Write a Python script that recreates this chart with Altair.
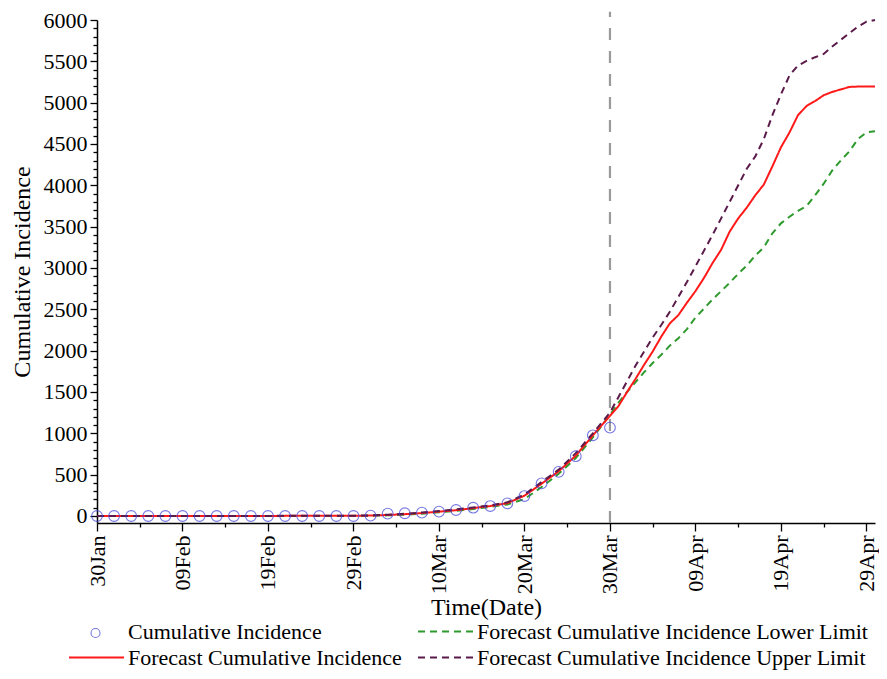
import json
import altair as alt
import pandas as pd

# ---------------- data (day offsets counted from 30 Jan 2020) ----------------
obs_label = "Cumulative Incidence"
obs_days = [0, 2, 4, 6, 8, 10, 12, 14, 16, 18, 20, 22, 24, 26, 28, 30,
            32, 34, 36, 38, 40, 42, 44, 46, 48, 50, 52, 54, 56, 58, 60]
obs_values = [0, 0, 0, 0, 0, 0, 0, 0, 0, 0, 0, 0, 0, 0, 0, 0,
              4, 28, 33, 40, 52, 72, 100, 120, 153, 241, 394, 534, 723, 976, 1069]

fc_days = [0, 10, 20, 30, 32, 34, 36, 38, 40, 42, 44, 46, 48, 50, 52, 54, 56, 58, 60,
           61, 62, 63, 64, 65, 66, 67, 68, 69, 70, 71, 72, 73, 74, 75, 76, 77, 78, 79, 80,
           81, 82, 83, 84, 85, 86, 87, 88, 89, 90, 91]
fc_mid = [0, 0, 1, 2, 5, 12, 22, 35, 52, 70, 95, 120, 155, 245, 390, 540, 730, 975, 1210,
          1330, 1500, 1660, 1830, 1990, 2170, 2330, 2430, 2580, 2720, 2880, 3060, 3220, 3440,
          3600, 3730, 3880, 4010, 4230, 4460, 4640, 4850, 4960, 5020, 5090, 5130, 5160, 5190,
          5195, 5195, 5195]
fc_upper = [0, 0, 1, 3, 6, 15, 28, 42, 60, 80, 102, 128, 165, 260, 410, 560, 760, 1000, 1250,
            1440, 1630, 1820, 1990, 2160, 2310, 2470, 2650, 2830, 3020, 3210, 3400, 3600, 3800,
            4000, 4200, 4350, 4560, 4850, 5100, 5330, 5450, 5505, 5550, 5590, 5680, 5760, 5840,
            5920, 5980, 6000]
fc_lower = [0, 0, 0, 1, 3, 8, 16, 28, 44, 62, 85, 110, 140, 205, 350, 510, 700, 950, 1225,
            1370, 1500, 1620, 1740, 1850, 1950, 2060, 2150, 2260, 2400, 2510, 2620, 2720, 2820,
            2930, 3030, 3150, 3250, 3420, 3540, 3620, 3690, 3750, 3880, 4020, 4180, 4300, 4410,
            4560, 4640, 4655]

series_names = ["Cumulative Incidence",
                "Forecast Cumulative Incidence Lower Limit",
                "Forecast Cumulative Incidence",
                "Forecast Cumulative Incidence Upper Limit"]
series_colors = ["rgba(0,0,0,0)", "#2e9a2e", "#ff1a1a", "#5a1a4a"]
series_dash = [[1, 0], [7, 5], [1, 0], [7, 5]]
series_width = [2, 2, 2.6, 2]

x_tick_labels = ["30Jan", "09Feb", "19Feb", "29Feb", "10Mar", "20Mar",
                 "30Mar", "09Apr", "19Apr", "29Apr"]
y_tick_values = list(range(0, 6001, 100))
forecast_start_day = 60  # 30 Mar

# ---------------- tables ----------------
obs_df = pd.DataFrame({"day": obs_days, "value": obs_values, "kind": obs_label})
fc_df = pd.concat([
    pd.DataFrame({"day": fc_days, "value": fc_lower, "series": series_names[1]}),
    pd.DataFrame({"day": fc_days, "value": fc_mid, "series": series_names[2]}),
    pd.DataFrame({"day": fc_days, "value": fc_upper, "series": series_names[3]}),
], ignore_index=True)

FONT = "Liberation Serif"
BLUE = "#3f3fd6"
Y_MIN, Y_MAX = -85, 6000

x_scale = alt.Scale(domain=[0, 91], nice=False, zero=False)
y_scale = alt.Scale(domain=[Y_MIN, Y_MAX], nice=False, zero=False)

x_axis = alt.Axis(
    title="Time(Date)",
    values=list(range(0, 91, 5)), tickCount=1000,
    labelExpr=f"datum.value % 10 === 0 ? {json.dumps(x_tick_labels)}[datum.value / 10] : ''",
    labelAngle=270, labelAlign="right", labelBaseline="middle",
    labelFontSize=22, labelPadding=4, labelOverlap=False, labelFlush=False,
    tickSize={"condition": {"test": "datum.value % 10 === 0", "value": 8}, "value": 4},
    titleFontSize=24, titlePadding=2, grid=False,
)
y_axis = alt.Axis(
    title="Cumulative Incidence",
    values=y_tick_values, tickCount=1000,
    format="d",
    labelExpr="datum.value % 500 === 0 ? datum.label : ''",
    labelFontSize=22, labelPadding=3, labelOverlap=False, labelFlush=False,
    tickSize={"condition": {"test": "datum.value % 500 === 0", "value": 7}, "value": 4},
    titleFontSize=24, titlePadding=9, grid=False,
)

line_legend = alt.Legend(
    title=None, orient="none", legendX=-29, legendY=600, direction="horizontal",
    values=series_names,
    columns=2, columnPadding=15, rowPadding=3, clipHeight=23,
    symbolType="stroke", symbolSize=3025, symbolStrokeWidth=2.5,
    labelFont=FONT, labelFontSize=22, labelOffset=3, labelLimit=600,
)

lines = alt.Chart(fc_df).mark_line().encode(
    x=alt.X("day:Q", scale=x_scale, axis=x_axis),
    y=alt.Y("value:Q", scale=y_scale, axis=y_axis),
    color=alt.Color("series:N", scale=alt.Scale(domain=series_names, range=series_colors),
                    legend=line_legend),
    strokeDash=alt.StrokeDash("series:N", scale=alt.Scale(domain=series_names, range=series_dash),
                              legend=line_legend),
    strokeWidth=alt.StrokeWidth("series:N", scale=alt.Scale(domain=series_names, range=series_width),
                                legend=None),
    order="day:Q",
)

vline = alt.Chart(pd.DataFrame({"day": [forecast_start_day]})).mark_rule(
    color="#9a9a9a", strokeWidth=2.2, strokeDash=[12, 11]
).encode(
    x=alt.X("day:Q", scale=x_scale),
    y=alt.datum(Y_MIN),
    y2=alt.datum(6100),
)

points = alt.Chart(obs_df).mark_point(filled=False, size=115, strokeWidth=1.1, color=BLUE).encode(
    x=alt.X("day:Q", scale=x_scale),
    y=alt.Y("value:Q", scale=y_scale),
    shape=alt.Shape("kind:N", scale=alt.Scale(domain=[obs_label], range=["circle"]),
                    legend=alt.Legend(title=None, orient="none", legendX=-7, legendY=607.5,
                                      labelExpr="''", symbolSize=80, symbolStrokeWidth=1.1,
                                      symbolStrokeColor=BLUE, symbolFillColor="transparent")),
)

chart = alt.layer(lines, vline, points).properties(
    width=778, height=503,
    autosize=alt.AutoSizeParams(type="none"),
    padding={"left": 89, "top": 12, "right": 4, "bottom": 148},
).configure_view(stroke=None).configure_axis(
    labelFont=FONT, titleFont=FONT, titleFontWeight="normal",
    labelColor="black", titleColor="black",
    domainColor="black", tickColor="black", domainWidth=1.5, tickWidth=1.3,
).configure_legend(labelColor="black")

chart.save("out.html", embed_options={"renderer": "svg", "actions": False})
